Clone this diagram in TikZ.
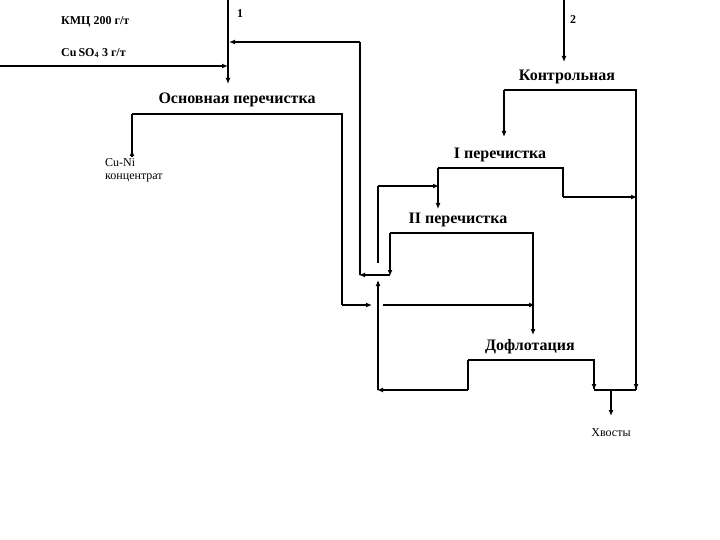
\documentclass[tikz,border=0pt]{standalone}
\usepackage{fontspec}
\setmainfont{Liberation Serif}
\usetikzlibrary{arrows.meta}
\begin{document}
\begin{tikzpicture}[x=1pt,y=-1pt,
  ln/.style={line width=1.6pt},
  ar/.style={ln,-{Latex[length=6pt,width=5pt]}},
  big/.style={font=\bfseries\fontsize{16}{18}\selectfont,inner sep=1pt},
  sm/.style={font=\bfseries\fontsize{12}{14}\selectfont,inner sep=1pt,anchor=west}]
\useasboundingbox (0,0) rectangle (720,540);
\node[sm] (kmc) at (60,22) {КМЦ 200 г/т};
\node[sm] (cus) at (60,53) {Cu\,SO\textsubscript{4} 3 г/т};
\node[sm] (n1) at (236,14) {1};
\node[sm] (n2) at (569,20) {2};
\node[big] (osn) at (237,100) {Основная перечистка};
\node[big] (kon) at (567,77) {Контрольная};
\node[big] (p1) at (500,155) {I перечистка};
\node[big] (p2) at (458,220) {II перечистка};
\node[big] (dof) at (530,347) {Дофлотация};
\node[sm,font=\fontsize{12}{13}\selectfont,align=left] (cuni) at (104,170) {Cu-Ni\\концентрат};
\node[sm,anchor=center,font=\fontsize{12}{14}\selectfont] (xv) at (611,433) {Хвосты};
\coordinate (t1) at (228,0); \coordinate (t2) at (564,0);
\coordinate (c1) at (0,66);
% feeds
\draw[ar] (t1) -- (228,84);
\draw[ar] (c1) -- (228,66);
\draw[ar] (t2) -- (564,62);
% osnovnaya
\draw[ln] (132,114) -- (342,114) -- (342,305);
\draw[ar] (132,114) -- (cuni.north west -| 132,0) ++(0,0) -- (132,150);
\draw[ar] (342,305) -- (372,305);
\draw[ar] (383,305) -- (535,305);
% recycle to main
\draw[ln] (360,275) -- (360,42);
\draw[ar] (360,42) -- (229,42);
% kontrolnaya
\draw[ln] (504,90) -- (636,90) -- (636,390);
\draw[ar] (504,90) -- (504,137);
% I
\draw[ln] (438,168) -- (563,168) -- (563,197);
\draw[ar] (438,168) -- (438,209);
\draw[ar] (563,197) -- (637,197);
\draw[ln] (378,263) -- (378,186);
\draw[ar] (378,186) -- (439,186);
% II
\draw[ln] (390,233) -- (533,233) -- (533,305);
\draw[ar] (390,233) -- (390,276);
\draw[ar] (390,275) -- (359,275);
\draw[ar] (533,305) -- (533,335);
% dof
\draw[ln] (468,360) -- (594,360) -- (594,389);
\draw[ln] (468,360) -- (468,390);
\draw[ar] (468,390) -- (377,390);
\draw[ln] (378,390) -- (378,282);
\draw[ar] (378,390) -- (378,280);
\draw[ln] (594,390) -- (636,390);
\draw[ar] (594,360) -- (594,390);
\draw[ar] (636,370) -- (636,390);
\draw[ar] (611,390) -- (611,416);
\end{tikzpicture}
\end{document}
